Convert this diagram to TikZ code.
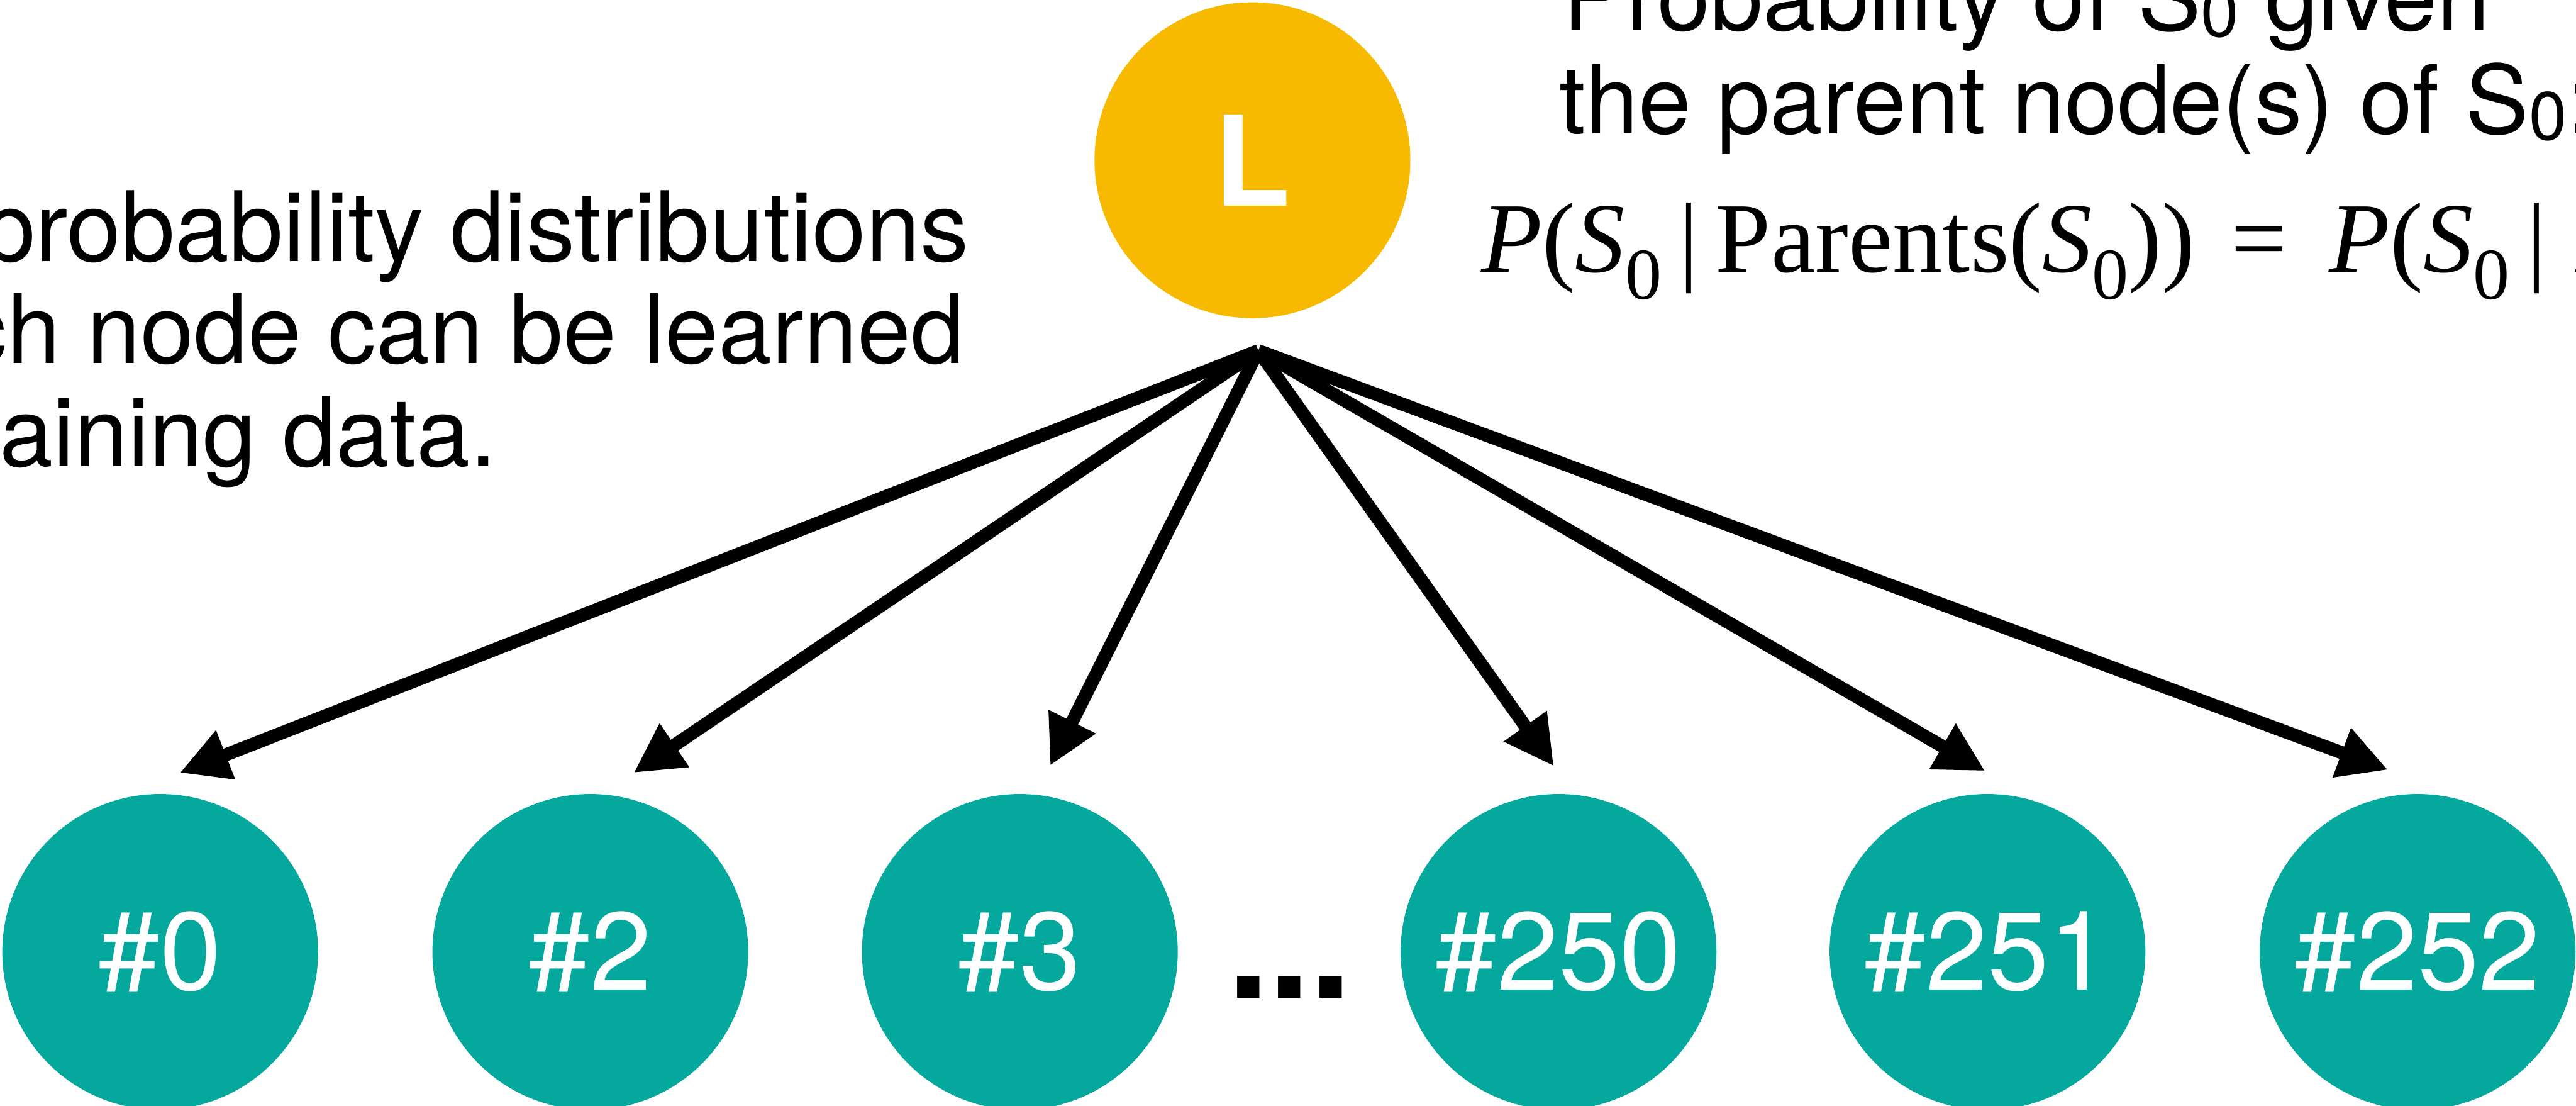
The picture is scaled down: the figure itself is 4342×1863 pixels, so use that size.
\documentclass[tikz,border=0pt]{standalone}
\usepackage{fontspec}
\setmainfont{TeX Gyre Heros}
\newfontfamily\formulafont{Liberation Serif}
\usetikzlibrary{arrows.meta,calc}

\definecolor{nodeyellow}{HTML}{F8BA00}
\definecolor{nodeteal}{HTML}{05A89D}

% a lowered, smaller zero used as an index: #1 = drop, #2 = size
\newcommand{\lowzero}[2]{\raisebox{-#1}{\fontsize{#2}{#2}\selectfont 0}}

\begin{document}
\begin{tikzpicture}[x=0.01cm,y=-0.01cm,
  rootnode/.style={circle, fill=nodeyellow, minimum size=5.32cm, inner sep=0pt,
    text=white, font=\fontsize{60pt}{60pt}\selectfont\bfseries},
  leafnode/.style={circle, fill=nodeteal, minimum size=5.32cm, inner sep=0pt,
    text=white, font=\fontsize{53pt}{53pt}\selectfont},
  linkarrow/.style={line width=0.22cm, line cap=butt,
    -{Triangle[length=0.83cm,width=0.83cm]}},
  captiontext/.style={inner sep=0pt, font=\fontsize{45.5pt}{49pt}\selectfont},
  sidetext/.style={inner sep=0pt, font=\fontsize{46.1pt}{49pt}\selectfont},
  mathtext/.style={inner sep=0pt, font=\formulafont\fontsize{47.8pt}{50pt}\selectfont},
]
\useasboundingbox (0,0) rectangle (4342,1863);
\clip (0,0) rectangle (4342,1863);

% root and leaves
\node[rootnode] (L) at (2111,270) {L};
\node[leafnode] (n0)   at (270,1604)  {\#0};
\node[leafnode] (n2)   at (995,1604)  {\#2};
\node[leafnode] (n3)   at (1719,1604) {\#3};
\node[leafnode] (n250) at (2627,1604) {\#250};
\node[leafnode] (n251) at (3350,1604) {\#251};
\node[leafnode] (n252) at (4075,1604) {\#252};
\node[inner sep=0pt, anchor=base west, font=\bfseries\fontsize{71pt}{71pt}\selectfont]
  (dots) at (2069,1682) {...};

% edges from the root
\coordinate (fork) at ($(L.south)+(10,54)$);
\draw[linkarrow] (fork) -- ($(n0.north)+(33,-35)$);
\draw[linkarrow] (fork) -- ($(n2.north)+(73,-35)$);
\draw[linkarrow] (fork) -- ($(n3.north)+(51,-47)$);
\draw[linkarrow] (fork) -- ($(n250.north)+(-8,-46)$);
\draw[linkarrow] (fork) -- ($(n251.north)+(-4,-38)$);
\draw[linkarrow] (fork) -- ($(n252.north)+(-50,-40)$);

% left caption
\node[sidetext, anchor=base east, font=\fontsize{46.6pt}{49pt}\selectfont]
  (d1) at (1634,440) {probability distributions};
\node[sidetext, anchor=base east] (d2) at (1626,612) {each node can be learned};
\node[sidetext, anchor=base east] (d3) at (838,786) {training data.};

% right caption and formula
\node[captiontext, anchor=base west] (q1) at (2634,51)
  {Probability of S\lowzero{3.1pt}{32.7pt} given};
\node[captiontext, anchor=base west] (q2) at (2628,225)
  {the parent node(s) of S\lowzero{3.1pt}{32.7pt}:};
\node[mathtext, anchor=base west] (eq) at (2496,458)
  {\textit{P}(\textit{S}\lowzero{13.1pt}{35pt}\hspace{0.17em}|\hspace{0.17em}Parents(\textit{S}\lowzero{13.1pt}{35pt}))\hspace{0.36em}=\hspace{0.42em}\textit{P}(\textit{S}\lowzero{13.1pt}{35pt}\hspace{0.17em}|\hspace{0.3em}\textit{L})};
\end{tikzpicture}
\end{document}
